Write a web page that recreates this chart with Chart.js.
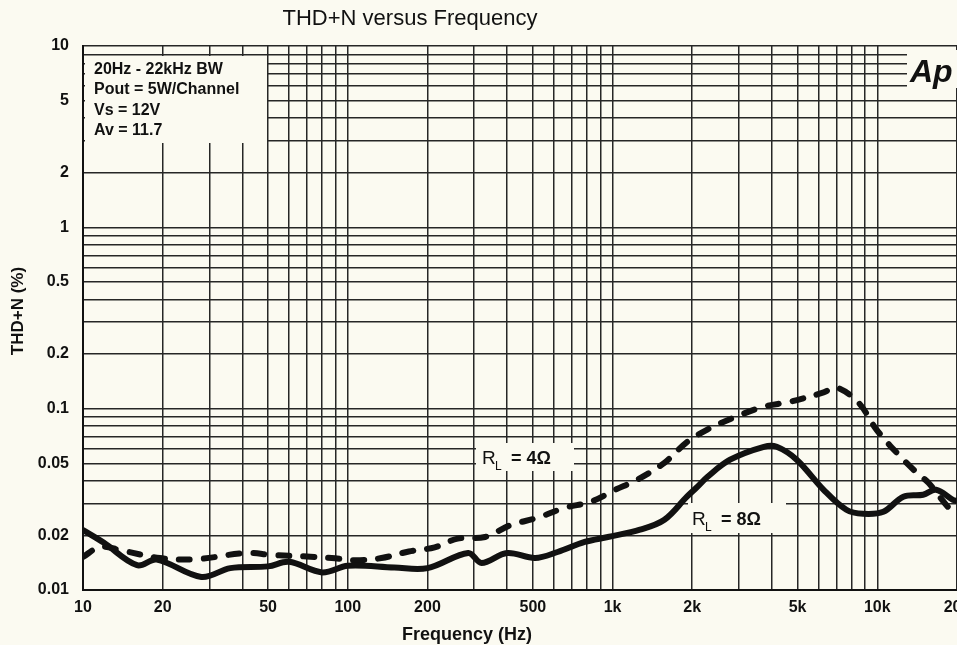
<!DOCTYPE html>
<html>
<head>
<meta charset="utf-8">
<script src="https://cdn.jsdelivr.net/npm/chart.js@4.4.1/dist/chart.umd.min.js"></script>
<style>
  html, body { margin: 0; padding: 0; background: #fbfaf1; }
  canvas { display: block; }
</style>
</head>
<body>
<canvas id="thd" width="957" height="645"></canvas>
<script>
// values (Hz, % THD+N)
const freq8 = [10, 12, 16, 19, 28, 36, 50, 60, 80, 100, 150, 200, 285, 320, 400, 510, 620, 785, 960, 1270, 1570, 1910, 2090, 2280, 2780, 3730, 4170, 4960, 6270, 7640, 8850, 10540, 12540, 14900, 16670, 19300, 20000];
const thd8  = [0.0214, 0.0182, 0.0137, 0.0147, 0.0118, 0.0132, 0.0135, 0.0143, 0.0125, 0.0136, 0.0133, 0.0132, 0.016, 0.0141, 0.016, 0.015, 0.0162, 0.0184, 0.0196, 0.0215, 0.0244, 0.0327, 0.037, 0.042, 0.0523, 0.0616, 0.0616, 0.0523, 0.0357, 0.0277, 0.0263, 0.027, 0.0327, 0.0335, 0.0357, 0.0314, 0.031];

const freq4 = [10, 11.6, 13.8, 19.5, 27, 41, 52, 70, 87, 107, 134, 170, 213, 260, 330, 412, 520, 660, 830, 1020, 1240, 1570, 1900, 2280, 2870, 3730, 4660, 6270, 7000, 8490, 9930, 11860, 14100, 15600, 18500, 20000];
const thd4  = [0.0152, 0.0173, 0.0166, 0.015, 0.0148, 0.016, 0.0156, 0.0153, 0.015, 0.0146, 0.015, 0.0163, 0.0172, 0.0192, 0.0196, 0.0228, 0.025, 0.0284, 0.0307, 0.0356, 0.0406, 0.0503, 0.065, 0.0767, 0.0893, 0.1026, 0.109, 0.123, 0.131, 0.108, 0.0767, 0.057, 0.0443, 0.039, 0.0287, 0.026];

const xTickValues = [10, 20, 50, 100, 200, 500, 1000, 2000, 5000, 10000, 20000];
const xTickLabels = ['10', '20', '50', '100', '200', '500', '1k', '2k', '5k', '10k', '20k'];
const yTickValues = [0.01, 0.02, 0.05, 0.1, 0.2, 0.5, 1, 2, 5, 10];
const yTickLabels = ['0.01', '0.02', '0.05', '0.1', '0.2', '0.5', '1', '2', '5', '10'];

const notes = ['20Hz - 22kHz BW', 'Pout = 5W/Channel', 'Vs = 12V', 'Av = 11.7'];

const paper = '#fbfaf1';
const ink = '#111';
const face = '"Liberation Sans", Arial, sans-serif';

// 1..9 per decade, for the grid
function logGrid(lo, hi) {
  const out = [];
  for (let d = lo; d <= hi * 1.0001; d *= 10) {
    for (let m = 1; m <= 9; m++) {
      const v = parseFloat((m * d).toPrecision(6));
      if (v <= hi * 1.0001) out.push(v);
    }
  }
  return out;
}

function labelFor(values, labels, v) {
  const i = values.findIndex(t => Math.abs(t - v) / t < 1e-6);
  return i >= 0 ? labels[i] : '';
}

const toPoints = (xs, ys) => xs.map((x, i) => ({ x: x, y: ys[i] }));

function rl(ctx, x, y, ohm) {
  ctx.font = '19px ' + face;
  ctx.textAlign = 'left';
  ctx.fillText('R', x, y);
  ctx.font = '12px ' + face;
  ctx.fillText('L', x + 13, y + 6);
  ctx.font = 'bold 18px ' + face;
  ctx.fillText('= ' + ohm, x + 29, y);
}

const overlay = {
  id: 'overlay',
  beforeDatasetsDraw(chart) {
    const ctx = chart.ctx;
    ctx.save();
    ctx.fillStyle = paper;
    ctx.fillRect(85, 56, 182, 87);     // note box
    ctx.fillRect(907, 50, 50, 38);     // logo box
    ctx.fillRect(476, 443, 98, 28);    // 4 ohm label
    ctx.fillRect(688, 503, 98, 30);    // 8 ohm label
    ctx.restore();
  },
  afterDatasetsDraw(chart) {
    const ctx = chart.ctx;
    ctx.save();
    ctx.fillStyle = ink;
    ctx.textBaseline = 'alphabetic';
    ctx.font = 'bold 16px ' + face;
    ctx.textAlign = 'left';
    notes.forEach((t, i) => ctx.fillText(t, 94, 74 + i * 20.3));

    ctx.font = 'italic bold 32px ' + face;
    ctx.fillText('Ap', 910, 82);

    rl(ctx, 482, 464, '4Ω');
    rl(ctx, 692, 525, '8Ω');

    // titles
    ctx.font = '22px ' + face;
    ctx.textAlign = 'center';
    ctx.fillText('THD+N versus Frequency', 410, 25);
    ctx.font = 'bold 18px ' + face;
    ctx.fillText('Frequency (Hz)', 467, 640);
    ctx.translate(23, 311);
    ctx.rotate(-Math.PI / 2);
    ctx.font = 'bold 17px ' + face;
    ctx.fillText('THD+N (%)', 0, 0);
    ctx.restore();
  }
};

const gridStyle = { color: '#262626', lineWidth: 1.5, drawTicks: false };
const tickFont = { family: face, size: 16, weight: 'bold' };

new Chart(document.getElementById('thd'), {
  type: 'scatter',
  data: {
    datasets: [
      {
        label: 'RL = 8Ω',
        data: toPoints(freq8, thd8),
        showLine: true,
        borderColor: ink,
        borderWidth: 6,
        pointRadius: 0,
        tension: 0.35,
        borderCapStyle: 'round',
        borderJoinStyle: 'round'
      },
      {
        label: 'RL = 4Ω',
        data: toPoints(freq4, thd4),
        showLine: true,
        borderColor: ink,
        borderWidth: 6,
        borderDash: [11, 14],
        borderCapStyle: 'round',
        pointRadius: 0,
        tension: 0.35
      }
    ]
  },
  plugins: [overlay],
  options: {
    responsive: false,
    animation: false,
    layout: { padding: { top: 46, right: 0, left: 0, bottom: 0 } },
    plugins: { legend: { display: false }, tooltip: { enabled: false } },
    scales: {
      x: {
        type: 'logarithmic',
        min: 10,
        max: 20000,
        grid: gridStyle,
        border: { display: true, color: ink, width: 2 },
        afterBuildTicks: s => { s.ticks = logGrid(10, 20000).map(v => ({ value: v })); },
        afterFit: s => { s.height = 55; s.paddingLeft = 0; s.paddingRight = 0; },
        ticks: {
          autoSkip: false,
          maxRotation: 0,
          padding: 8,
          color: ink,
          font: tickFont,
          callback: v => labelFor(xTickValues, xTickLabels, v)
        }
      },
      y: {
        type: 'logarithmic',
        min: 0.01,
        max: 10,
        grid: gridStyle,
        border: { display: true, color: ink, width: 2 },
        afterBuildTicks: s => { s.ticks = logGrid(0.01, 10).map(v => ({ value: v })); },
        afterFit: s => { s.width = 83; s.paddingTop = 0; s.paddingBottom = 0; },
        ticks: {
          autoSkip: false,
          padding: 14,
          color: ink,
          font: tickFont,
          callback: v => labelFor(yTickValues, yTickLabels, v)
        }
      }
    }
  }
});
</script>
</body>
</html>
